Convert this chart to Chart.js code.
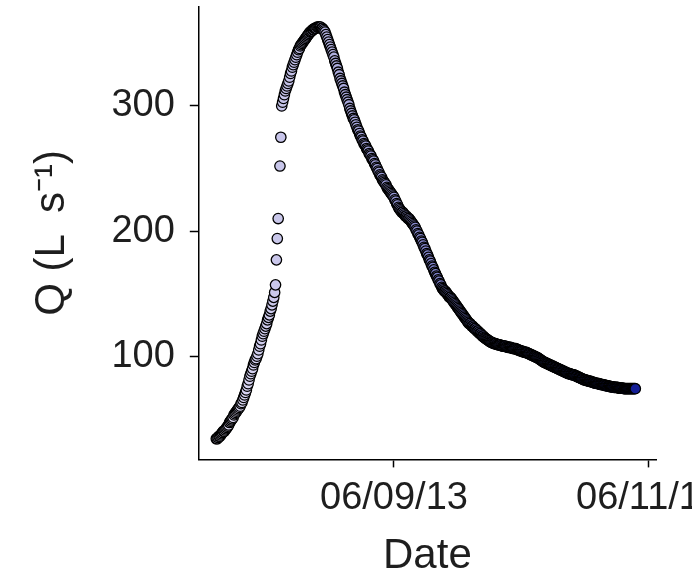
<!DOCTYPE html>
<html>
<head>
<meta charset="utf-8">
<script src="https://cdn.jsdelivr.net/npm/chart.js@4.4.1/dist/chart.umd.min.js"></script>
<style>
  html, body { margin: 0; padding: 0; background: #fff; overflow: hidden; }
</style>
</head>
<body>
<canvas id="grafico" width="692" height="577"></canvas>
<script>
// discharge record, one reading every 10 minutes
// time in hours relative to 06/09/13 00:00
const startHour = -33.5;
const stepHours = 1 / 6;

const discharge = [
  34, 34, 35, 36, 36, 37,
  38, 39, 40, 40, 41, 42,
  43, 44, 45, 47, 48, 49,
  50, 51, 53, 54, 55, 56,
  57, 58, 59, 60, 62, 63,
  65, 67, 69, 71, 73, 76,
  78, 81, 84, 86, 88, 90,
  93, 95, 97, 98, 100, 102,
  105, 108, 110, 113, 116, 118,
  120, 122, 124, 126, 129, 131,
  133, 136, 138, 141, 144, 147,
  151, 157, 177, 194, 210, null,
  252, 275, 300, 303, 306, 309,
  312, 314, 316, 318, 320, 323,
  326, 328, 331, 333, 335, 337,
  339, 341, 343, 345, 346, 348,
  349, 350, 351, 352, 353, 354,
  355, 356, 357, 358, 359, 359.5,
  360, 361, 361, 362, 362, 362,
  363, 363, 363, 363, 363, 362,
  362, 361, 360, 359,
  357, 355, 353, 351, 349, 347,
  345, 343, 341, 339, 336, 334,
  332, 330, 327, 325, 322, 320,
  318, 316, 314, 311, 309, 307,
  305, 303, 301, 298, 296, 294,
  292, 290, 289, 287, 285, 283,
  281, 280, 278, 276, 275, 273,
  272, 270, 269, 268, 266, 265,
  264, 262, 261, 260, 258, 257,
  256, 254, 253, 251, 250, 248,
  247, 245, 244, 243, 241, 240,
  239, 238, 237, 235, 234, 233,
  232, 231, 230, 229, 228, 227,
  225, 224, 222, 221, 219, 218,
  217, 216, 215, 215, 214, 213,
  212, 212, 211, 210, 210, 209,
  208, 207, 206, 205, 204, 203,
  201, 200, 198, 197, 195, 194,
  192, 191, 189, 187, 186, 184,
  182, 181, 179, 177, 176, 174,
  172, 171, 169, 167, 166, 164,
  163, 161, 160, 158, 157, 155,
  154, 153, 152, 152, 151, 150,
  149, 148, 147, 147, 146, 145,
  144, 143, 142, 141, 140, 139,
  138, 137, 136, 135, 134, 133,
  132, 131, 130, 129, 128, 127,
  126, 126, 125, 124, 124, 123,
  122, 122, 121, 120, 120, 119,
  118, 118, 117, 116, 116, 115,
  114.5, 114, 113.5, 113, 112.5, 112,
  111.5, 111, 111, 110.5, 110, 110,
  110, 109.5, 109.5, 109, 109, 109,
  108.5, 108.5, 108, 108, 108, 108,
  107.5, 107.5, 107, 107, 107, 107,
  106.5, 106.5, 106, 106, 106, 106,
  105.5, 105, 105, 104.5, 104.5, 104,
  104, 103.5, 103.5, 103, 103, 103,
  102.5, 102, 102, 101.5, 101, 101,
  100.5, 100, 100, 99.5, 99, 99,
  98.5, 98, 97.5, 97, 96.5, 96,
  95.5, 95, 95, 94.5, 94, 94,
  93.5, 93, 93, 92.5, 92, 92,
  91.5, 91, 91, 90.5, 90, 90,
  89.5, 89, 89, 88.5, 88, 88,
  87.5, 87, 87, 86.5, 86, 86,
  86, 85.5, 85.5, 85, 85, 85,
  84.5, 84, 84, 83.5, 83, 83,
  82.5, 82, 82, 81.5, 81, 81,
  81, 80.5, 80.5, 80, 80, 80,
  79.5, 79.5, 79, 79, 78.5, 78.5,
  78.5, 78, 78, 78, 77.5, 77.5,
  77.5, 77, 77, 77, 76.5, 76.5,
  76.5, 76, 76, 76, 75.5, 75.5,
  75.5, 75.5, 75, 75, 75, 75,
  75, 74.5, 74.5, 74.5, 74.5, 74.5,
  74.5, 74, 74, 74, 74, 74,
  74, 74, 74, 74, 74, 74,
  74, 74, 74
];

const xTickHours = [0, 48];
const xTickLabels = ['06/09/13', '06/11/13'];
const yTickValues = [100, 200, 300];

const pontos = discharge.map((q, i) => ({ x: startHour + i * stepHours, y: q }));

// fill goes from pale lavender to dark blue over the record
const corInicio = [226, 222, 246];
const corFim = [20, 30, 150];
const cores = discharge.map((q, i) => {
  const t = Math.pow(i / (discharge.length - 1), 1.1);
  const c = corInicio.map((v, k) => Math.round(v + (corFim[k] - v) * t));
  return `rgb(${c[0]}, ${c[1]}, ${c[2]})`;
});

const fonte = 'Liberation Sans, Arial, sans-serif';
const corTexto = '#1e1e1e';

const ctx = document.getElementById('grafico').getContext('2d');

new Chart(ctx, {
    type: 'scatter',
    data: {
        datasets: [{
            data: pontos,
            backgroundColor: cores,
            borderColor: '#000',
            borderWidth: 1.3,
            pointRadius: 5.2,
            pointHoverRadius: 5.2
        }]
    },
    options: {
        responsive: false,
        animation: false,
        layout: {
            padding: { left: 0, right: 36, top: 4, bottom: 0 }
        },
        plugins: {
            legend: { display: false },
            tooltip: { enabled: false }
        },
        scales: {
            x: {
                type: 'linear',
                min: -36.8,
                max: 49.4,
                afterBuildTicks: (s) => { s.ticks = xTickHours.map(v => ({ value: v })); },
                afterFit: (s) => { s.paddingLeft = 0; s.paddingRight = 0; },
                ticks: {
                    callback: (v, i) => xTickLabels[i],
                    color: corTexto,
                    font: { family: fonte, size: 38 },
                    padding: 8,
                    maxRotation: 0,
                    autoSkip: false
                },
                grid: { drawOnChartArea: false, tickLength: 8, tickColor: '#000', tickWidth: 1.5 },
                border: { color: '#000', width: 1.5 },
                title: {
                    display: true,
                    text: 'Date',
                    color: corTexto,
                    font: { family: fonte, size: 42, lineHeight: 1 },
                    padding: { top: 6, bottom: 0 }
                }
            },
            y: {
                min: 17.5,
                max: 379.5,
                afterBuildTicks: (s) => { s.ticks = yTickValues.map(v => ({ value: v })); },
                afterFit: (s) => { s.paddingTop = 0; s.paddingBottom = 0; },
                ticks: {
                    color: corTexto,
                    font: { family: fonte, size: 38 },
                    padding: 15
                },
                grid: { drawOnChartArea: false, tickLength: 9, tickColor: '#000', tickWidth: 1.5 },
                border: { color: '#000', width: 1.5 },
                title: {
                    display: true,
                    text: 'Q (L\u2002s⁻¹)',
                    color: corTexto,
                    font: { family: fonte, size: 42 },
                    padding: { top: 27, bottom: 19 }
                }
            }
        }
    }
});
</script>
</body>
</html>
